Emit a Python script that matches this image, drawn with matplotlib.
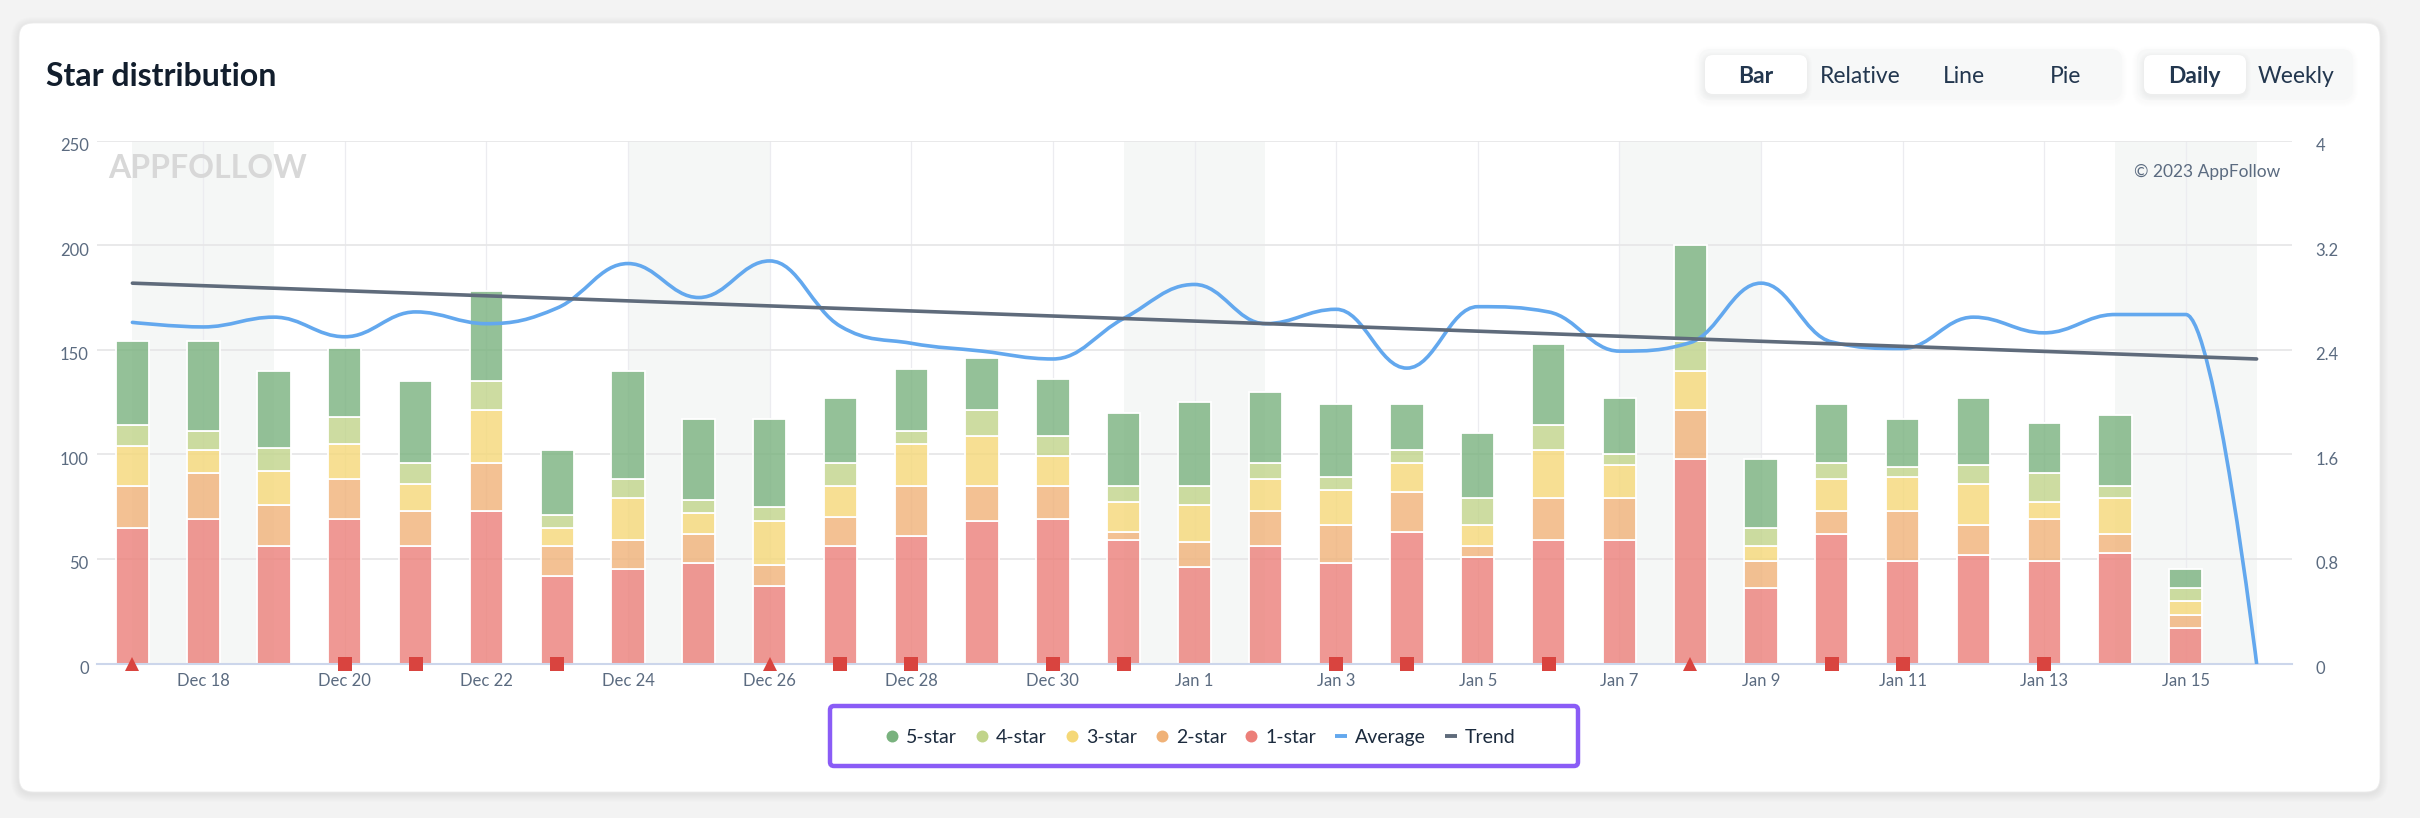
import matplotlib
matplotlib.use("Agg")
import matplotlib.pyplot as plt
import matplotlib.transforms as mtransforms
from matplotlib.patches import FancyBboxPatch, PathPatch
from matplotlib.path import Path
import numpy as np

plt.rcParams['font.family'] = ['Lato', 'DejaVu Sans']

# ---------------- data ----------------
day_labels = ["Dec 17", "Dec 18", "Dec 19", "Dec 20", "Dec 21", "Dec 22", "Dec 23",
              "Dec 24", "Dec 25", "Dec 26", "Dec 27", "Dec 28", "Dec 29", "Dec 30",
              "Dec 31", "Jan 1", "Jan 2", "Jan 3", "Jan 4", "Jan 5", "Jan 6", "Jan 7",
              "Jan 8", "Jan 9", "Jan 10", "Jan 11", "Jan 12", "Jan 13", "Jan 14", "Jan 15"]

star1 = [65, 69, 56, 69, 56, 73, 42, 45, 48, 37, 56, 61, 68, 69, 59,
         46, 56, 48, 63, 51, 59, 59, 98, 36, 62, 49, 52, 49, 53, 17]
star2 = [20, 22, 20, 19, 17, 23, 14, 14, 14, 10, 14, 24, 17, 16, 4,
         12, 17, 18, 19, 5, 20, 20, 23, 13, 11, 24, 14, 20, 9, 6]
star3 = [19, 11, 16, 17, 13, 25, 9, 20, 10, 21, 15, 20, 24, 14, 14,
         18, 15, 17, 14, 10, 23, 16, 19, 7, 15, 16, 20, 8, 17, 7]
star4 = [10, 9, 11, 13, 10, 14, 6, 9, 6, 7, 11, 6, 12, 10, 8,
         9, 8, 6, 6, 13, 12, 5, 14, 9, 8, 5, 9, 14, 6, 6]
star5 = [40, 43, 37, 33, 39, 43, 31, 52, 39, 42, 31, 30, 25, 27, 35,
         40, 34, 35, 22, 31, 39, 27, 46, 33, 28, 23, 32, 24, 34, 9]

avg_days = day_labels + ["Jan 16"]
average = [2.61, 2.575, 2.65, 2.50, 2.69, 2.60, 2.72, 3.06, 2.80, 3.08, 2.58, 2.45,
           2.39, 2.33, 2.64, 2.90, 2.60, 2.71, 2.26, 2.73, 2.69, 2.39, 2.455, 2.91,
           2.46, 2.41, 2.65, 2.53, 2.67, 2.67, 0.0]

trend_days = ["Dec 17", "Jan 16"]
trend = [2.91, 2.33]

weekend_days = ["Dec 17", "Dec 24", "Dec 31", "Jan 7", "Jan 14"]
triangle_days = ["Dec 17", "Dec 26", "Jan 8"]
square_days = ["Dec 20", "Dec 21", "Dec 23", "Dec 27", "Dec 28", "Dec 30", "Dec 31",
               "Jan 3", "Jan 4", "Jan 6", "Jan 10", "Jan 11", "Jan 13"]

series_names = ["5-star", "4-star", "3-star", "2-star", "1-star"]
left_ticks = [0, 50, 100, 150, 200, 250]
right_ticks = [0, 0.8, 1.6, 2.4, 3.2, 4]
right_tick_labels = ["0", "0.8", "1.6", "2.4", "3.2", "4"]

# ---------------- styles ----------------
star_colors = {"5-star": "#79b27e", "4-star": "#c1d48a", "3-star": "#f5d878",
               "2-star": "#f0b278", "1-star": "#ec7f79"}
avg_color = "#63a8ee"
trend_color = "#5f6b7b"
marker_color = "#d9443f"
label_color = "#5b6b80"
W, H = 2420, 818

fig = plt.figure(figsize=(W / 100, H / 100), dpi=100)
fig.patch.set_facecolor("#f3f3f3")

# background / decoration axes in pixel coordinates
bg = fig.add_axes([0, 0, 1, 1], zorder=0)
bg.set_xlim(0, W)
bg.set_ylim(H, 0)
bg.axis("off")

def rbox(ax, x, y, w, h, r, fc, ec="none", lw=0, z=1, alpha=1.0):
    p = FancyBboxPatch((x, y), w, h, boxstyle=f"round,pad=0,rounding_size={r}",
                       fc=fc, ec=ec, lw=lw, zorder=z, alpha=alpha, mutation_aspect=1)
    ax.add_patch(p)
    return p

# card with soft shadow
for k in range(1, 9):
    rbox(bg, 19 - k, 23 - k + 2, 2361 + 2 * k, 769 + 2 * k, 14 + k, "#000000", z=0.5, alpha=0.006)
rbox(bg, 19, 23, 2361, 769, 14, "white", ec="#ececec", lw=0.6, z=1)

# title
bg.text(46, 86, "Star distribution", fontsize=23, fontweight="bold", color="#121e2d",
        ha="left", va="baseline", zorder=3)

# button groups
btn_color = "#23374f"
for k in range(1, 6):
    rbox(bg, 1699 - k, 49 - k + 2, 423 + 2 * k, 51 + 2 * k, 12 + k, "#000000", z=1.2, alpha=0.004)
    rbox(bg, 2137 - k, 49 - k + 2, 216 + 2 * k, 51 + 2 * k, 12 + k, "#000000", z=1.2, alpha=0.004)
rbox(bg, 1699, 49, 423, 51, 12, "#f7f8f8", z=1.5)
rbox(bg, 2137, 49, 216, 51, 12, "#f7f8f8", z=1.5)
for (x0, w0) in [(1705, 102), (2144, 102)]:
    for k in range(1, 6):
        rbox(bg, x0 - k, 55 - k + 2, w0 + 2 * k, 39 + 2 * k, 8 + k, "#000000", z=1.6, alpha=0.008)
    rbox(bg, x0, 55, w0, 39, 8, "white", z=1.7)
btn_size = 16.5
base = 75 + 0.36 * btn_size * 100 / 72
for label, xc, wt in [("Bar", 1756, "bold"), ("Relative", 1860, "normal"), ("Line", 1964, "normal"),
                      ("Pie", 2066, "normal"), ("Daily", 2194, "bold"), ("Weekly", 2296, "normal")]:
    bg.text(xc, base, label, fontsize=btn_size, fontweight=wt, color=btn_color,
            ha="center", va="baseline", zorder=3)

# ---------------- chart ----------------
x_left, x_right, y_top, y_bot = 97, 2292, 140.7, 663.5
ax = fig.add_axes([x_left / W, (H - y_bot) / H, (x_right - x_left) / W, (y_bot - y_top) / H], zorder=2)
ax.patch.set_visible(False)
ax2 = ax.twinx()
ax2.patch.set_visible(False)

n = len(day_labels)
x = np.arange(n)
idx = {d: i for i, d in enumerate(avg_days)}

# weekend bands
for d in weekend_days:
    ax.axvspan(idx[d], idx[d] + 2, color="#f5f7f6", zorder=0.1, lw=0)

# stacked bars
stack = {"1-star": star1, "2-star": star2, "3-star": star3, "4-star": star4, "5-star": star5}
bottom = np.zeros(n)
for name in ["1-star", "2-star", "3-star", "4-star", "5-star"]:
    vals = np.array(stack[name], dtype=float)
    c = matplotlib.colors.to_rgb(star_colors[name])
    ax.bar(x, vals, bottom=bottom, width=0.47, color=(*c, 0.8), edgecolor="white",
           linewidth=1.3, zorder=2)
    bottom += vals

# axes settings
ax.set_xlim(-0.5, n + 0.5)
ax.set_ylim(0, 250)
ax2.set_ylim(0, 4)
ax.set_yticks(left_ticks)
ax.set_yticklabels([str(t) for t in left_ticks])
ax2.set_yticks(right_ticks)
ax2.set_yticklabels(right_tick_labels)
ax.set_xticks(x[1::2])
ax.set_xticklabels(day_labels[1::2])

ax.set_axisbelow(True)
ax.grid(axis="y", color="#e7e7e8", lw=1.3, zorder=0.5)
ax.grid(axis="x", color="#ececf0", lw=0.9, zorder=0.5)
for s in ["top", "left", "right"]:
    ax.spines[s].set_visible(False)
    ax2.spines[s].set_visible(False)
ax2.spines["bottom"].set_visible(False)
ax.spines["bottom"].set_color("#ccd6eb")
ax.spines["bottom"].set_linewidth(1.5)
ax.spines["bottom"].set_zorder(3)

ax.tick_params(axis="x", length=0, pad=7, labelsize=12, labelcolor=label_color)
ax.tick_params(axis="y", length=0, pad=6, labelsize=12, labelcolor=label_color)
ax2.tick_params(axis="y", length=0, pad=17, labelsize=12, labelcolor=label_color)
off = mtransforms.ScaledTranslation(0, -4 / 100, fig.dpi_scale_trans)
for lab in ax.get_yticklabels() + ax2.get_yticklabels():
    lab.set_transform(lab.get_transform() + off)

# watermark and copyright
ax.text(108, 178.5, "APPFOLLOW", transform=bg.transData, fontsize=23, fontweight="bold",
        color="#d8d8d8", ha="left", va="baseline", zorder=0.6)
ax.text(2280, 177, "\u00a9 2023 AppFollow", transform=bg.transData, fontsize=12.5,
        color=label_color, ha="right", va="baseline", zorder=0.6)

# annotation markers on the axis
ax.plot([idx[d] for d in square_days], np.zeros(len(square_days)), ls="none", marker="s",
        ms=10, color=marker_color, mew=0, clip_on=False, zorder=6)
ax.plot([idx[d] for d in triangle_days], np.zeros(len(triangle_days)), ls="none", marker="^",
        ms=10, color=marker_color, mew=0, clip_on=False, zorder=6)

# average spline (Highcharts-like bezier through the points)
def spline_path(xs, ys, smoothing=1.5):
    denom = smoothing + 1
    m = len(xs)
    lc = [None] * m
    rc = [None] * m
    for i in range(1, m - 1):
        px, py = xs[i], ys[i]
        lx, ly = xs[i - 1], ys[i - 1]
        nx, ny = xs[i + 1], ys[i + 1]
        lcx = (smoothing * px + lx) / denom
        lcy = (smoothing * py + ly) / denom
        rcx = (smoothing * px + nx) / denom
        rcy = (smoothing * py + ny) / denom
        if rcx != lcx:
            corr = ((rcy - lcy) * (rcx - px)) / (rcx - lcx) + py - rcy
            lcy += corr
            rcy += corr
        if lcy > ly and lcy > py:
            lcy = max(ly, py); rcy = 2 * py - lcy
        elif lcy < ly and lcy < py:
            lcy = min(ly, py); rcy = 2 * py - lcy
        if rcy > ny and rcy > py:
            rcy = max(ny, py); lcy = 2 * py - rcy
        elif rcy < ny and rcy < py:
            rcy = min(ny, py); lcy = 2 * py - rcy
        lc[i] = (lcx, lcy)
        rc[i] = (rcx, rcy)
    verts = [(xs[0], ys[0])]
    codes = [Path.MOVETO]
    for i in range(1, m):
        c1 = rc[i - 1] if rc[i - 1] is not None else (xs[i - 1], ys[i - 1])
        c2 = lc[i] if lc[i] is not None else (xs[i], ys[i])
        verts += [c1, c2, (xs[i], ys[i])]
        codes += [Path.CURVE4] * 3
    return Path(verts, codes)

ax_x = [idx[d] for d in avg_days]
ax2.add_patch(PathPatch(spline_path(ax_x, average), fill=False, ec=avg_color, lw=2.6,
                        capstyle="round", joinstyle="round", zorder=3))
ax2.plot([idx[d] for d in trend_days], trend, color=trend_color, lw=2.6,
         solid_capstyle="round", zorder=4)

# ---------------- legend ----------------
rbox(bg, 830, 706, 748, 60, 4, "white", ec="#8a5cf6", lw=3.2, z=2)
leg_size = 14
leg_base = 736 + 0.36 * leg_size * 100 / 72
items = [(nm, "dot", star_colors[nm]) for nm in series_names] + \
        [("Average", "line", avg_color), ("Trend", "line", trend_color)]
renderer = fig.canvas.get_renderer()
texts = []
widths = []
for nm, kind, col in items:
    t = bg.text(0, leg_base, nm, fontsize=leg_size, color="#1c2b3e", ha="left",
                va="baseline", zorder=3)
    texts.append(t)
    widths.append(t.get_window_extent(renderer).width)
sym_w, sym_gap, item_gap = 12, 8, 19
total = sum(sym_w + sym_gap + w for w in widths) + item_gap * (len(items) - 1)
cur = 1201 - total / 2
for (nm, kind, col), t, w in zip(items, texts, widths):
    if kind == "dot":
        bg.plot([cur + sym_w / 2], [736], ls="none", marker="o", ms=8.6, color=col, mew=0, zorder=3)
    else:
        bg.plot([cur, cur + sym_w], [736, 736], color=col, lw=2.8, solid_capstyle="butt", zorder=3)
    t.set_x(cur + sym_w + sym_gap)
    cur += sym_w + sym_gap + w + item_gap

fig.savefig("out.png", dpi=100, facecolor=fig.get_facecolor())
